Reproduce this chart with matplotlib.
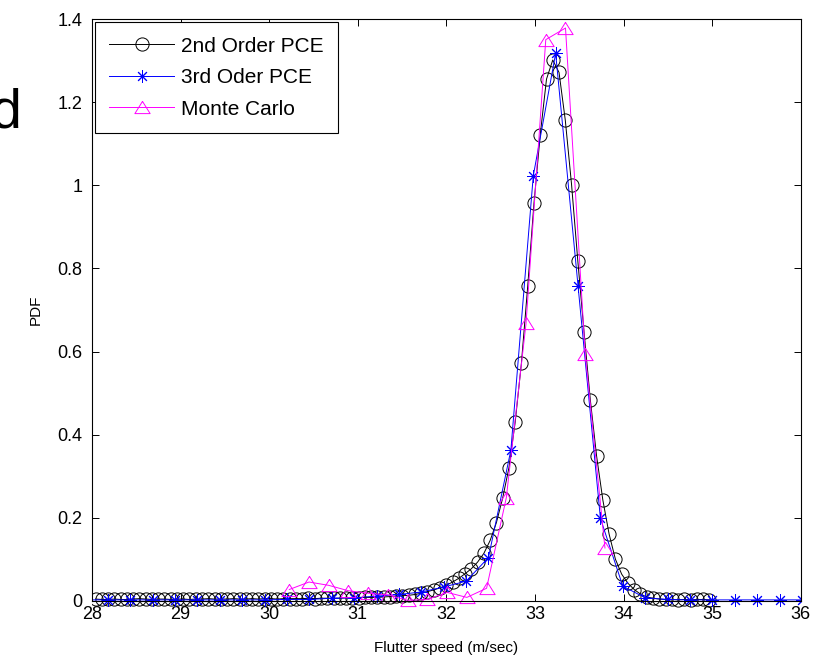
import numpy as np
import matplotlib
matplotlib.use("Agg")
import matplotlib.pyplot as plt
from matplotlib.patches import Rectangle
from matplotlib.ticker import FuncFormatter

plt.rcParams["font.family"] = ["Liberation Sans", "DejaVu Sans"]

# ── PDF estimates of the flutter speed ───────────────────────────────
# 2nd order PCE, evaluated on a uniform speed grid
pce2_start, pce2_step = 28.04, 0.0707
pce2_pdf = [
    0.004, 0.003, 0.003, 0.004, 0.003, 0.003, 0.004, 0.005, 0.004, 0.003,
    0.004, 0.004, 0.003, 0.004, 0.004, 0.003, 0.004, 0.004, 0.005, 0.004,
    0.004, 0.004, 0.005, 0.004, 0.004, 0.005, 0.004, 0.005, 0.005, 0.004,
    0.005, 0.005, 0.005, 0.005, 0.006, 0.005, 0.006, 0.006, 0.006, 0.006,
    0.007, 0.007, 0.007, 0.008, 0.008, 0.008, 0.009, 0.010, 0.011, 0.012,
    0.013, 0.015, 0.018, 0.022, 0.026, 0.031, 0.037, 0.045, 0.054, 0.065,
    0.077, 0.093, 0.114, 0.145, 0.188, 0.247, 0.320, 0.430, 0.573, 0.757,
    0.957, 1.122, 1.256, 1.302, 1.272, 1.157, 1.002, 0.818, 0.646, 0.483,
    0.348, 0.242, 0.160, 0.100, 0.064, 0.042, 0.027, 0.016, 0.009, 0.006,
    0.004, 0.003, 0.003, 0.002, 0.003, 0.002, 0.003, 0.003, 0.002,
]

# 3rd order PCE, coarser grid
pce3_start, pce3_step = 27.927, 0.2527
pce3_pdf = [
    0.002, 0.002, 0.002, 0.002, 0.002, 0.002, 0.002, 0.002, 0.002, 0.003,
    0.003, 0.006, 0.007, 0.011, 0.015, 0.021, 0.033, 0.047, 0.104, 0.363,
    1.023, 1.318, 0.758, 0.198, 0.035, 0.007, 0.003, 0.002, 0.002, 0.002,
    0.002, 0.002, 0.002,
]

# Monte Carlo histogram
mc_start, mc_step = 30.227, 0.2227
mc_pdf = [
    0.027, 0.045, 0.037, 0.024, 0.018, 0.014, 0.001, 0.003, 0.020, 0.008,
    0.030, 0.248, 0.668, 1.351, 1.379, 0.594, 0.127,
]

x_ticks = [28, 29, 30, 31, 32, 33, 34, 35, 36]
y_ticks = [0, 0.2, 0.4, 0.6, 0.8, 1.0, 1.2, 1.4]

pce2_x = pce2_start + pce2_step * np.arange(len(pce2_pdf))
pce3_x = pce3_start + pce3_step * np.arange(len(pce3_pdf))
mc_x = mc_start + mc_step * np.arange(len(mc_pdf))

# open triangle, a bit wider than tall
tri = [(0, 0.8), (-1, -0.8), (1, -0.8), (0, 0.8)]

fig = plt.figure(figsize=(8.19, 6.61), dpi=100)
ax = fig.add_axes([0.1123, 0.0912, 0.8654, 0.8796])

l1, = ax.plot(pce2_x, pce2_pdf, color="k", lw=0.7, marker="o", ms=9.5,
              mfc="none", mec="k", mew=0.7, label="2nd Order PCE")
l2, = ax.plot(pce3_x, pce3_pdf, color="#0000ff", lw=0.7, marker=(8, 2, 0), ms=9,
              mec="#0000ff", mew=0.7, label="3rd Oder PCE")
l3, = ax.plot(mc_x, mc_pdf, color="#ff00ff", lw=0.7, marker=tri, ms=11,
              mfc="none", mec="#ff00ff", mew=0.7, label="Monte Carlo")

# clip at the left/right limits only, so markers near zero hang over the x axis
for ln in (l1, l2, l3):
    ln.set_clip_path(Rectangle((0, -0.05), 1, 1.1, transform=ax.transAxes))

ax.set_xlim(28, 36)
ax.set_ylim(0, 1.4)
ax.set_xticks(x_ticks)
ax.set_yticks(y_ticks)
ax.yaxis.set_major_formatter(FuncFormatter(lambda v, p: f"{v:g}"))
ax.tick_params(direction="in", length=5, width=0.7, top=True, right=True,
               labelsize=13)
ax.tick_params(axis="x", pad=4)
ax.tick_params(axis="y", pad=7)
for s in ax.spines.values():
    s.set_linewidth(0.8)

ax.set_xlabel("Flutter speed (m/sec)", fontsize=11, labelpad=13)
ax.set_ylabel("PDF", fontsize=11, labelpad=10)

leg = ax.legend(loc="upper left", bbox_to_anchor=(0.004, 0.995), borderaxespad=0,
                fontsize=15, numpoints=1, handlelength=3.1, handletextpad=0.35,
                labelspacing=0.6, borderpad=0.7, fancybox=False,
                edgecolor="k", framealpha=1)
leg.get_frame().set_linewidth(0.8)

# panel letter, cut by the left border
fig.text(0.026, 1 - 128 / 661, "d", fontsize=40, ha="right", va="baseline")

fig.savefig("out.png", dpi=100)
